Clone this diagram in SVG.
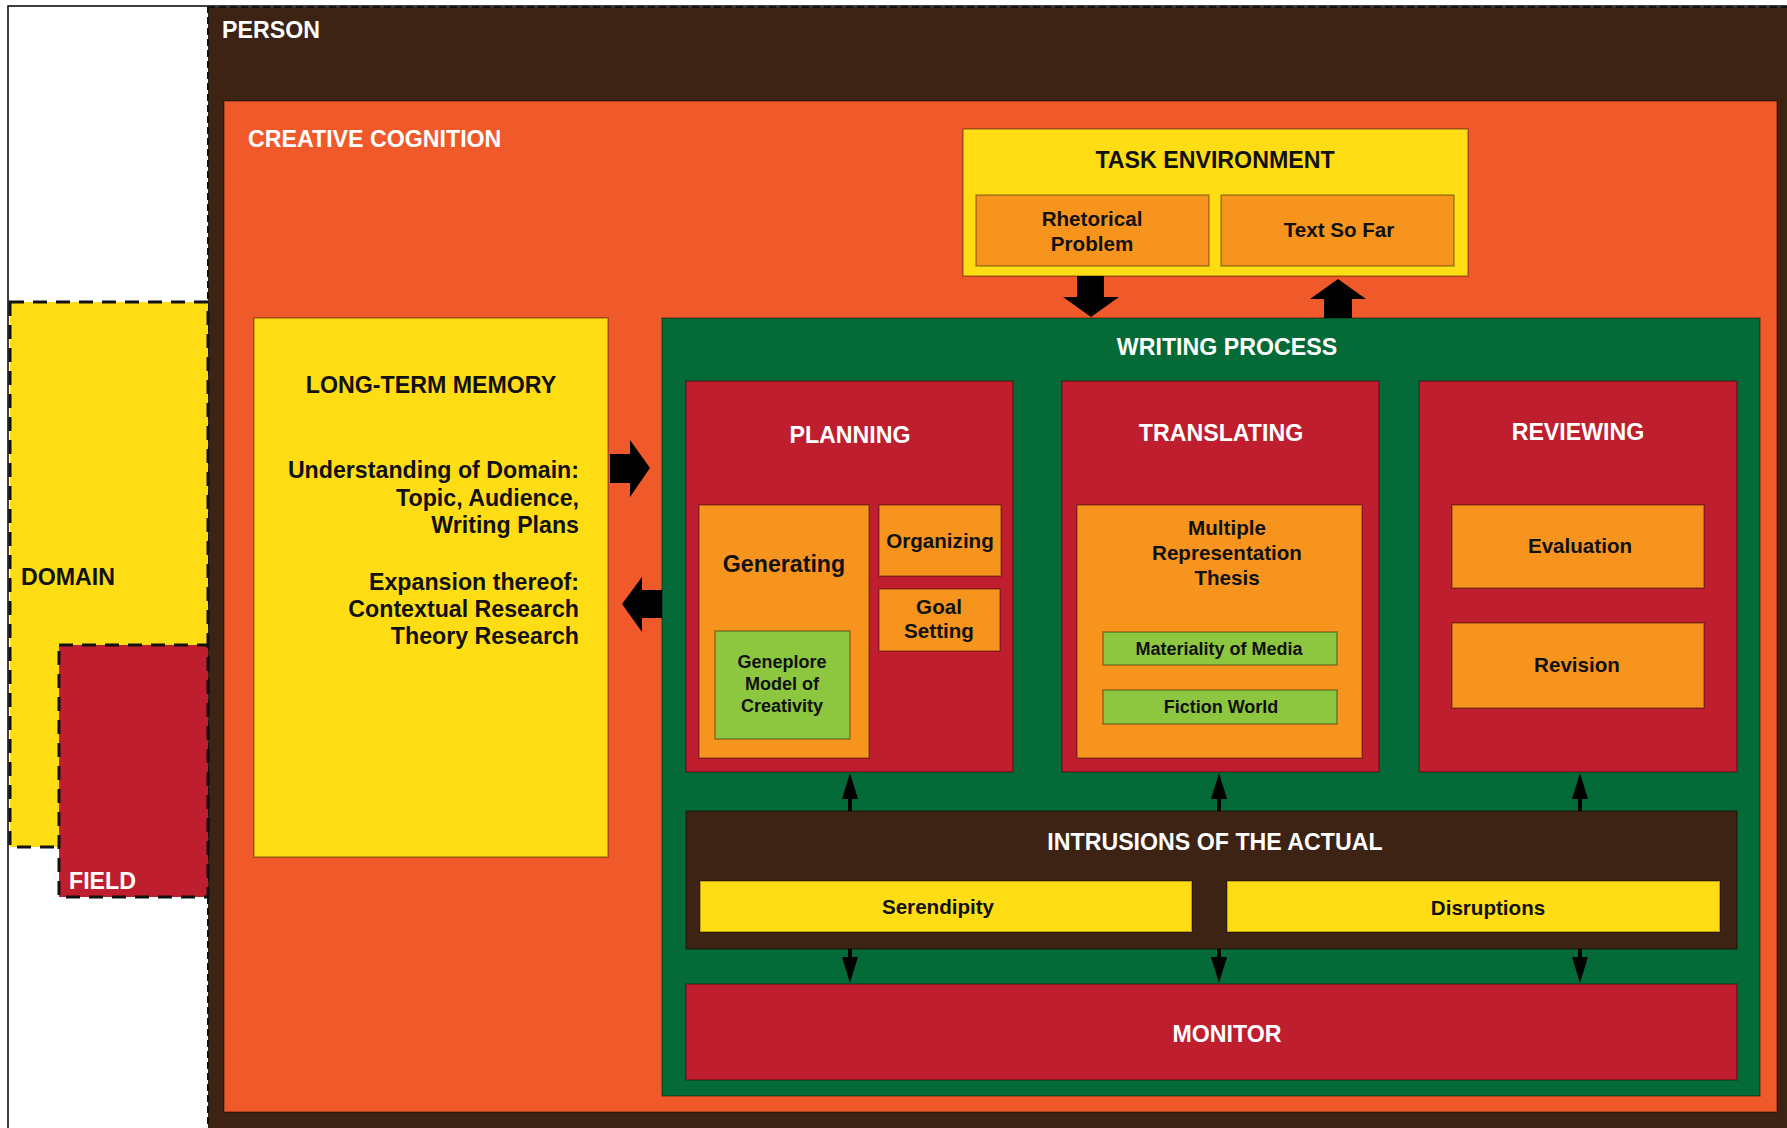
<svg xmlns="http://www.w3.org/2000/svg" width="1787" height="1128" viewBox="0 0 1787 1128">
<style>
.box{stroke:#000;stroke-opacity:.35;stroke-width:1.5}
.yellow{fill:#FFDD15}
.orange{fill:#F7941E}
.red{fill:#BE1E2D}
.green{fill:#046A38}
.lgreen{fill:#8DC63F}
.brown{fill:#3C2314}
.corange{fill:#F05A2B}
.dash{stroke:#111;stroke-width:3;stroke-dasharray:14 9}
text{font-family:"Liberation Sans",Arial,Helvetica,sans-serif;font-weight:bold}
.w{fill:#fff}
.k{fill:#111}
.h{font-size:23.2px}
.m{font-size:20.6px}
.s{font-size:18px}
.c{text-anchor:middle}
.r{text-anchor:end}
.conn{stroke:#000;stroke-width:4;fill:none}
.block{fill:#000}
</style>
<defs>
<marker id="ah" viewBox="0 0 26 16" markerWidth="26" markerHeight="16" refX="16" refY="8" orient="auto" markerUnits="userSpaceOnUse">
<path d="M0,0 L26,8 L0,16 Z" fill="#000"/>
</marker>
</defs>
<rect x="0" y="0" width="1787" height="1128" fill="#fff"/>
<rect x="8" y="6" width="1790" height="1130" fill="none" stroke="#000" stroke-width="1.5"/>

<g id="person">
<rect x="208" y="7" width="1590" height="1130" class="brown" stroke="#111" stroke-width="2" stroke-dasharray="7 4"/>
<text x="222" y="38" class="w h">PERSON</text>
</g>

<g id="domain">
<rect x="10" y="302" width="198" height="545" class="yellow dash"/>
<text x="21" y="585" class="k h">DOMAIN</text>
</g>

<g id="field">
<rect x="59" y="645" width="149" height="252" class="red dash"/>
<text x="69" y="889" class="w h">FIELD</text>
</g>

<g id="creative-cognition">
<rect x="224" y="101" width="1553" height="1011" class="corange box"/>
<text x="248" y="147" class="w h">CREATIVE COGNITION</text>
</g>

<g id="long-term-memory">
<rect x="254" y="318" width="354" height="539" class="yellow box"/>
<text x="431" y="393" class="k h c">LONG-TERM MEMORY</text>
<text x="579" y="478" class="k h r">Understanding of Domain:</text>
<text x="579" y="506" class="k h r">Topic, Audience,</text>
<text x="579" y="533" class="k h r">Writing Plans</text>
<text x="579" y="590" class="k h r">Expansion thereof:</text>
<text x="579" y="617" class="k h r">Contextual Research</text>
<text x="579" y="644" class="k h r">Theory Research</text>
</g>

<g id="task-environment">
<rect x="963" y="129" width="505" height="147" class="yellow box"/>
<text x="1215" y="168" class="k h c">TASK ENVIRONMENT</text>
</g>
<g id="rhetorical-problem">
<rect x="976" y="195" width="233" height="71" class="orange box"/>
<text x="1092" y="226" class="k m c">Rhetorical</text>
<text x="1092" y="251" class="k m c">Problem</text>
</g>
<g id="text-so-far">
<rect x="1221" y="195" width="233" height="71" class="orange box"/>
<text x="1339" y="237" class="k m c">Text So Far</text>
</g>

<g id="writing-process">
<rect x="662" y="318" width="1098" height="778" class="green box"/>
<text x="1227" y="355" class="w h c">WRITING PROCESS</text>
</g>

<g id="planning">
<rect x="686" y="381" width="327" height="391" class="red box"/>
<text x="850" y="443" class="w h c">PLANNING</text>
</g>
<g id="generating">
<rect x="699" y="505" width="170" height="253" class="orange box"/>
<text x="784" y="572" class="k h c">Generating</text>
</g>
<g id="geneplore">
<rect x="715" y="631" width="135" height="108" class="lgreen box"/>
<text x="782" y="668" class="k s c">Geneplore</text>
<text x="782" y="690" class="k s c">Model of</text>
<text x="782" y="712" class="k s c">Creativity</text>
</g>
<g id="organizing">
<rect x="879" y="505" width="122" height="71" class="orange box"/>
<text x="940" y="548" class="k m c">Organizing</text>
</g>
<g id="goal-setting">
<rect x="879" y="589" width="121" height="62" class="orange box"/>
<text x="939" y="614" class="k m c">Goal</text>
<text x="939" y="638" class="k m c">Setting</text>
</g>

<g id="translating">
<rect x="1062" y="381" width="317" height="391" class="red box"/>
<text x="1221" y="441" class="w h c">TRANSLATING</text>
</g>
<g id="multiple-representation">
<rect x="1077" y="505" width="285" height="253" class="orange box"/>
<text x="1227" y="535" class="k m c">Multiple</text>
<text x="1227" y="560" class="k m c">Representation</text>
<text x="1227" y="585" class="k m c">Thesis</text>
</g>
<g id="materiality">
<rect x="1103" y="632" width="234" height="33" class="lgreen box"/>
<text x="1219" y="655" class="k s c">Materiality of Media</text>
</g>
<g id="fiction-world">
<rect x="1103" y="690" width="234" height="34" class="lgreen box"/>
<text x="1221" y="713" class="k s c">Fiction World</text>
</g>

<g id="reviewing">
<rect x="1419" y="381" width="318" height="391" class="red box"/>
<text x="1578" y="440" class="w h c">REVIEWING</text>
</g>
<g id="evaluation">
<rect x="1452" y="505" width="252" height="83" class="orange box"/>
<text x="1580" y="553" class="k m c">Evaluation</text>
</g>
<g id="revision">
<rect x="1452" y="623" width="252" height="85" class="orange box"/>
<text x="1577" y="672" class="k m c">Revision</text>
</g>

<g id="intrusions">
<rect x="686" y="811" width="1051" height="138" class="brown box"/>
<text x="1215" y="850" class="w h c">INTRUSIONS OF THE ACTUAL</text>
</g>
<g id="serendipity">
<rect x="700" y="881" width="492" height="51" class="yellow box"/>
<text x="938" y="914" class="k m c">Serendipity</text>
</g>
<g id="disruptions">
<rect x="1227" y="881" width="493" height="51" class="yellow box"/>
<text x="1488" y="915" class="k m c">Disruptions</text>
</g>

<g id="monitor">
<rect x="686" y="984" width="1051" height="96" class="red box"/>
<text x="1227" y="1042" class="w h c">MONITOR</text>
</g>

<g id="connectors">
<polygon class="block" points="610,454 630,454 630,440 650,468 630,497 630,483 610,483"/>
<polygon class="block" points="662,590 642,590 642,577 622,604 642,632 642,618 662,618"/>
<polygon class="block" points="1077,276 1104,276 1104,297 1119,297 1091,317 1063,297 1077,297"/>
<polygon class="block" points="1324,318 1324,299 1310,299 1338,279 1366,299 1352,299 1352,318"/>
<line class="conn" x1="850" y1="811" x2="850" y2="783" marker-end="url(#ah)"/>
<line class="conn" x1="1219" y1="811" x2="1219" y2="783" marker-end="url(#ah)"/>
<line class="conn" x1="1580" y1="811" x2="1580" y2="783" marker-end="url(#ah)"/>
<line class="conn" x1="850" y1="949" x2="850" y2="973" marker-end="url(#ah)"/>
<line class="conn" x1="1219" y1="949" x2="1219" y2="973" marker-end="url(#ah)"/>
<line class="conn" x1="1580" y1="949" x2="1580" y2="973" marker-end="url(#ah)"/>
</g>
</svg>
